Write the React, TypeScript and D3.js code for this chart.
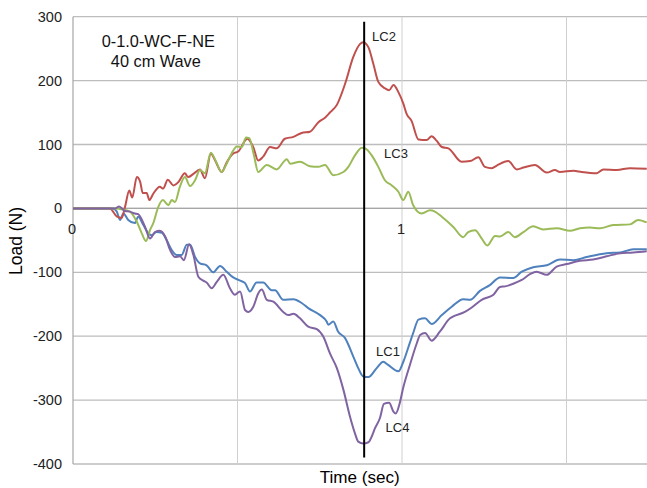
import React from "react";
import * as d3 from "d3";

// ---- data: [time (sec), load (N)] ----
const lc1: [number, number][] = [
  [0, 0], [0.122, 0], [0.133, -5], [0.143, -18], [0.153, -8], [0.168, -18], [0.188, -23], [0.198, -13],
  [0.214, -26], [0.229, -39], [0.239, -42], [0.254, -37], [0.27, -38], [0.285, -50], [0.3, -65], [0.315, -73],
  [0.33, -73], [0.346, -57], [0.356, -57], [0.371, -76], [0.386, -86], [0.406, -89], [0.426, -100], [0.447, -90],
  [0.467, -99], [0.487, -108], [0.508, -113], [0.523, -117], [0.538, -130], [0.558, -116], [0.578, -116],
  [0.604, -128], [0.614, -128], [0.639, -143], [0.67, -142], [0.695, -148], [0.715, -156], [0.751, -167],
  [0.771, -177], [0.776, -182], [0.791, -177], [0.806, -193], [0.827, -203], [0.852, -232], [0.867, -250],
  [0.882, -263], [0.898, -264], [0.923, -250], [0.943, -240], [0.958, -245], [0.989, -255], [1.004, -240],
  [1.024, -210], [1.034, -195], [1.05, -174], [1.07, -172], [1.09, -181], [1.121, -167], [1.151, -154],
  [1.186, -142], [1.207, -143], [1.237, -129], [1.267, -120], [1.298, -108], [1.338, -109], [1.364, -99],
  [1.399, -92], [1.44, -89], [1.48, -80], [1.521, -81], [1.561, -76], [1.622, -70], [1.663, -69],
  [1.703, -64], [1.744, -64],
];

const lc2: [number, number][] = [
  [0, 0], [0.112, 0], [0.134, -13], [0.148, -15], [0.158, 2], [0.171, 28], [0.18, 17], [0.194, 49],
  [0.204, 42], [0.212, 24], [0.224, 24], [0.232, 13], [0.244, 23], [0.264, 34], [0.274, 31], [0.288, 45],
  [0.305, 36], [0.32, 41], [0.34, 55], [0.35, 49], [0.366, 54], [0.386, 61], [0.401, 47], [0.419, 86],
  [0.432, 75], [0.452, 57], [0.467, 72], [0.487, 86], [0.502, 89], [0.53, 109], [0.548, 96], [0.563, 75],
  [0.578, 81], [0.599, 96], [0.619, 94], [0.644, 109], [0.67, 112], [0.695, 118], [0.72, 120], [0.746, 135],
  [0.766, 142], [0.781, 150], [0.802, 162], [0.827, 195], [0.852, 237], [0.872, 257], [0.882, 260],
  [0.898, 252], [0.913, 226], [0.928, 198], [0.948, 188], [0.961, 185], [0.974, 193], [0.989, 182],
  [1.004, 164], [1.014, 148], [1.029, 137], [1.05, 108], [1.075, 107], [1.09, 113], [1.105, 106],
  [1.121, 96], [1.141, 94], [1.181, 73], [1.207, 74], [1.232, 80], [1.252, 65], [1.273, 63], [1.288, 67],
  [1.323, 74], [1.349, 61], [1.369, 64], [1.404, 68], [1.44, 56], [1.465, 60], [1.48, 57], [1.521, 59],
  [1.546, 57], [1.592, 55], [1.612, 61], [1.653, 60], [1.693, 63], [1.744, 62],
];

const lc3: [number, number][] = [
  [0, 0], [0.134, 0], [0.143, -1], [0.173, -5], [0.194, -21], [0.209, -39], [0.222, -51], [0.234, -34],
  [0.244, -23], [0.259, 2], [0.273, 13], [0.29, 5], [0.3, 13], [0.31, 10], [0.325, 34], [0.34, 49],
  [0.356, 35], [0.371, 44], [0.386, 60], [0.401, 55], [0.419, 87], [0.435, 73], [0.452, 57], [0.467, 70],
  [0.482, 86], [0.498, 97], [0.513, 96], [0.526, 111], [0.536, 110], [0.55, 83], [0.563, 57], [0.589, 68],
  [0.619, 61], [0.65, 77], [0.66, 70], [0.69, 73], [0.72, 66], [0.746, 65], [0.766, 68], [0.791, 52],
  [0.822, 57], [0.837, 65], [0.857, 83], [0.878, 95], [0.888, 94], [0.908, 83], [0.928, 65], [0.948, 44],
  [0.969, 36], [0.989, 26], [1.004, 13], [1.019, 26], [1.034, 5], [1.06, -8], [1.085, -3], [1.1, -5],
  [1.121, -13], [1.156, -29], [1.186, -45], [1.201, -37], [1.222, -34], [1.242, -47], [1.259, -58],
  [1.283, -43], [1.298, -44], [1.323, -37], [1.343, -45], [1.369, -37], [1.399, -28], [1.429, -33],
  [1.47, -31], [1.511, -35], [1.541, -31], [1.571, -30], [1.602, -31], [1.642, -26], [1.693, -25],
  [1.718, -18], [1.744, -22],
];

const lc4: [number, number][] = [
  [0, 0], [0.128, 0], [0.14, 3], [0.158, -4], [0.173, -5], [0.188, -8], [0.198, -9], [0.219, -29],
  [0.234, -47], [0.249, -37], [0.264, -35], [0.28, -44], [0.295, -65], [0.31, -76], [0.325, -75],
  [0.337, -81], [0.353, -56], [0.366, -73], [0.381, -107], [0.396, -113], [0.406, -116], [0.422, -125],
  [0.437, -115], [0.457, -104], [0.477, -125], [0.492, -135], [0.508, -130], [0.523, -159], [0.533, -162],
  [0.548, -154], [0.563, -133], [0.574, -127], [0.589, -143], [0.609, -146], [0.639, -162], [0.654, -167],
  [0.67, -165], [0.69, -172], [0.715, -185], [0.741, -189], [0.761, -201], [0.781, -227], [0.802, -250],
  [0.822, -284], [0.842, -326], [0.857, -352], [0.867, -365], [0.882, -368], [0.898, -366], [0.908, -357],
  [0.918, -344], [0.933, -328], [0.945, -306], [0.961, -304], [0.974, -318], [0.981, -321], [0.992, -307],
  [1.004, -280], [1.024, -245], [1.045, -211], [1.055, -198], [1.07, -195], [1.09, -207], [1.115, -193],
  [1.146, -172], [1.156, -169], [1.191, -162], [1.212, -155], [1.242, -143], [1.278, -135], [1.298, -123],
  [1.313, -122], [1.338, -118], [1.364, -112], [1.389, -103], [1.409, -99], [1.44, -104], [1.47, -91],
  [1.501, -87], [1.541, -82], [1.581, -80], [1.622, -75], [1.663, -70], [1.703, -69], [1.744, -67],
];

const yTicks = [-400, -300, -200, -100, 0, 100, 200, 300];
const xGrid = [0.5, 1, 1.5];
const xTickLabels = [0, 1];
const markerTime = 0.885;
const markerRange: [number, number] = [-390, 292];
const titleLines = ["0-1.0-WC-F-NE", "40 cm Wave"];

const series = [
  { name: "LC1", data: lc1, color: "#4F81BD", label: [388, 356] },
  { name: "LC2", data: lc2, color: "#C0504D", label: [384, 41] },
  { name: "LC3", data: lc3, color: "#9BBB59", label: [396, 158] },
  { name: "LC4", data: lc4, color: "#8064A2", label: [397.5, 431.5] },
];

const W = 647;
const H = 488;
const FONT = "'Liberation Sans', Arial, sans-serif";

export default function App() {
  const x = d3.scaleLinear().domain([0, 1.75]).range([73, 73 + 1.75 * 329]);
  const y = d3.scaleLinear().domain([-400, 300]).range([464, 16.7]);
  const line = d3
    .line<[number, number]>()
    .x((d) => x(d[0]))
    .y((d) => y(d[1]))
    .curve(d3.curveMonotoneX);

  const right = W;
  return (
    <svg
      width={W}
      height={H}
      style={{ position: "absolute", left: 0, top: 0, background: "#fff" }}
      fontFamily={FONT}
    >
      <rect x={0} y={0} width={W} height={H} fill="#fff" />
      {/* horizontal gridlines */}
      {yTicks.map((t) => (
        <line key={"h" + t} x1={x(0)} x2={right} y1={y(t)} y2={y(t)} stroke="#bdbdbd" strokeWidth={1.3} />
      ))}
      {/* vertical gridlines */}
      {xGrid.map((t) => (
        <line key={"v" + t} x1={x(t)} x2={x(t)} y1={y(300)} y2={y(-400)} stroke="#cfcfcf" strokeWidth={1} />
      ))}
      {/* axis lines */}
      <line x1={x(0)} x2={x(0)} y1={y(300)} y2={y(-400)} stroke="#a6a6a6" strokeWidth={1.2} />
      <line x1={x(0)} x2={right} y1={y(0)} y2={y(0)} stroke="#a6a6a6" strokeWidth={1.3} />
      {/* y tick labels */}
      {yTicks.map((t) => (
        <text key={"yl" + t} x={62} y={y(t) + 5} textAnchor="end" fontSize={14.5} fill="#222">
          {t}
        </text>
      ))}
      {/* x tick labels */}
      {xTickLabels.map((t) => (
        <text key={"xl" + t} x={x(t) - 1} y={233.5} textAnchor="middle" fontSize={14.5} fill="#222">
          {t}
        </text>
      ))}
      {/* series */}
      {series.map((s) => (
        <path key={s.name} d={line(s.data) || ""} fill="none" stroke={s.color} strokeWidth={2} strokeLinejoin="round" />
      ))}
      {/* marker line */}
      <line
        x1={x(markerTime)}
        x2={x(markerTime)}
        y1={y(markerRange[1])}
        y2={y(markerRange[0])}
        stroke="#000"
        strokeWidth={2}
      />
      {/* series labels */}
      {series.map((s) => (
        <text key={"lab" + s.name} x={s.label[0]} y={s.label[1]} textAnchor="middle" fontSize={13} fill="#222">
          {s.name}
        </text>
      ))}
      {/* title */}
      <text x={158.3} y={46.5} textAnchor="middle" fontSize={16.3} fill="#111">
        {titleLines[0]}
      </text>
      <text x={155.8} y={66.5} textAnchor="middle" fontSize={16.3} fill="#111">
        {titleLines[1]}
      </text>
      {/* axis titles */}
      <text
        transform={`translate(21.5, 241) rotate(-90)`}
        textAnchor="middle"
        fontSize={17.5}
        fill="#000"
      >
        Load (N)
      </text>
      <text x={359.7} y={482.5} textAnchor="middle" fontSize={17.1} fill="#000">
        Time (sec)
      </text>
    </svg>
  );
}
